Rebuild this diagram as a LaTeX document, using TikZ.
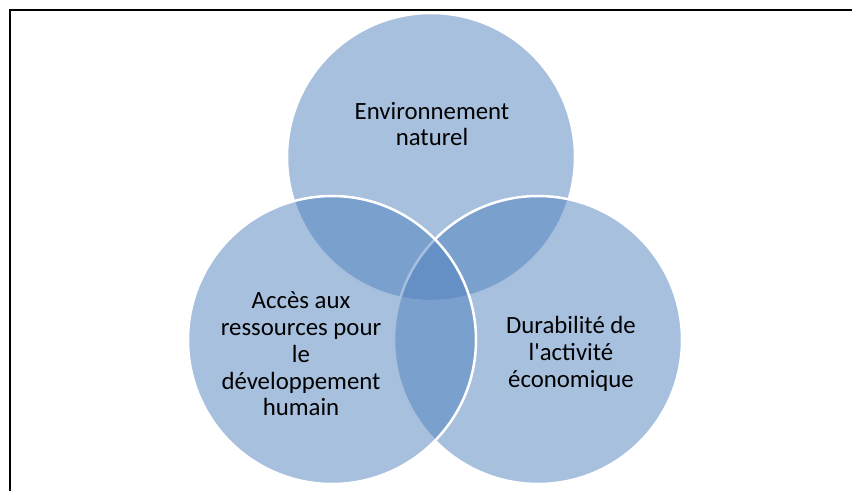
\documentclass[tikz,border=0pt]{standalone}
\usepackage{fontspec}
\newfontfamily\calibri{Carlito}
\usetikzlibrary{positioning}
\definecolor{venn}{HTML}{4F81BD}

\begin{document}
\begin{tikzpicture}[x=1pt, y=-1pt,
    zone/.style={circle, draw=white, line width=2.5pt, fill=venn, fill opacity=0.5, minimum size=288pt, inner sep=0pt},
    texte/.style={align=center, text=black, font=\calibri\fontsize{24.8}{26.7}\selectfont}]
        % Cadre
        \useasboundingbox (0,0) rectangle (852,491);
        \draw[line width=2pt] (10,491) -- (10,10) -- (852,10);

        % Cercles (haut, droite, gauche)
        \node[zone] (env) at (431,157) {};
        \node[zone] (eco) at (538,340) {};
        \node[zone] (hum) at (332,340) {};

        % Textes
        \node[texte] (tenv) at (432,124) {Environnement\\naturel};
        \node[texte] (thum) at (301,354) {Accès aux\\ressources pour\\le\\développement\\humain};
        \node[texte] (teco) at (571,354) {Durabilité de\\l'activité\\économique};
    \end{tikzpicture}
\end{document}
